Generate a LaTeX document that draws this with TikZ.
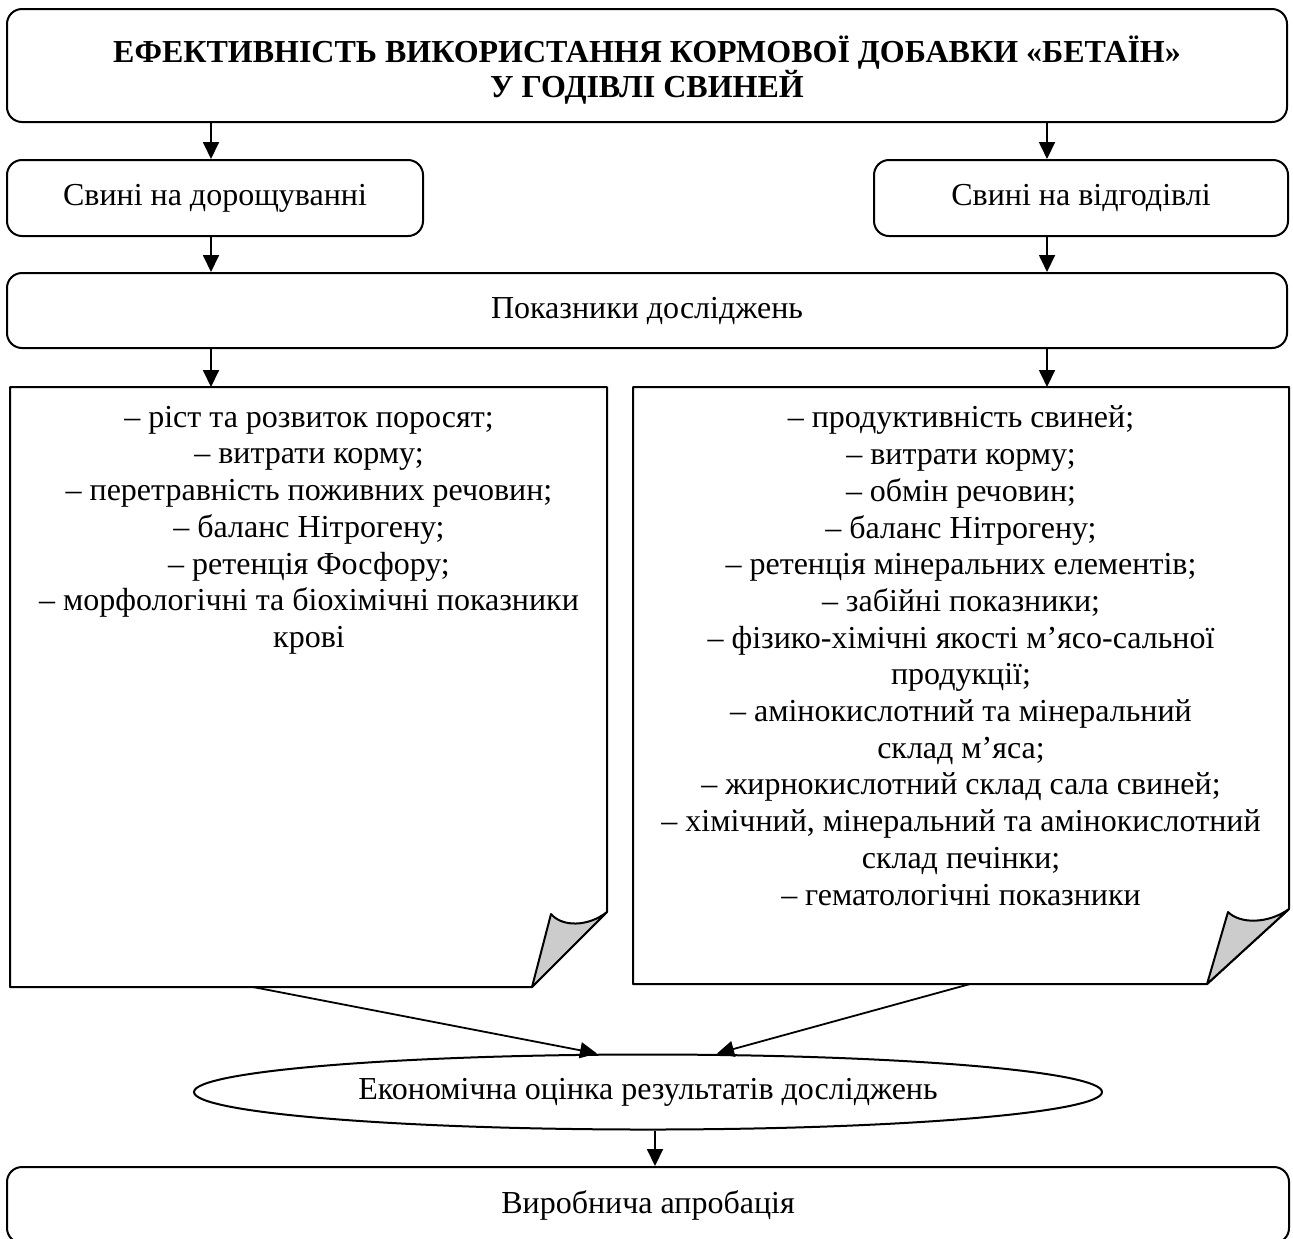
\documentclass[tikz,border=0pt]{standalone}
\usepackage{fontspec}
\setmainfont{Liberation Serif}
\usetikzlibrary{arrows.meta,calc,positioning,shapes.geometric}
\definecolor{foldgray}{RGB}{204,204,204}

\begin{document}
\begin{tikzpicture}[x=0.5pt,y=-0.5pt,
    rbox/.style={draw,line width=1pt,rounded corners=7.5pt,inner sep=0pt,align=center},
    docline/.style={draw,line width=1pt,line join=round},
    arr/.style={line width=0.9pt,-{Triangle[length=8.5pt,width=8pt]}},
    listtext/.style={anchor=north,align=center,font=\fontsize{16}{18.35}\selectfont},
    font=\fontsize{16}{17.5}\selectfont]
  \useasboundingbox (0,0) rectangle (1293,1238);
  % title and the two groups
  \node[rbox,minimum width=640pt,minimum height=56.5pt] (title) at (647,65.5) {};
  \node[align=center,font=\fontsize{16}{17.5}\selectfont\bfseries] (titletxt) at (647,70)
    {ЕФЕКТИВНІСТЬ ВИКОРИСТАННЯ КОРМОВОЇ ДОБАВКИ «БЕТАЇН»\\У ГОДІВЛІ СВИНЕЙ};
  \node[rbox,minimum width=208pt,minimum height=38pt] (dor) at (215,198) {Свині на дорощуванні};
  \node[rbox,minimum width=207pt,minimum height=38pt] (vid) at (1081,198) {Свині на відгодівлі};
  \node[rbox,minimum width=640pt,minimum height=37.5pt] (pok) at (647,310.5) {Показники досліджень};
  \coordinate (tl) at (211,122);
  \coordinate (tr) at (1047,122);
  \draw[arr] (tl) -- (tl |- dor.north);
  \draw[arr] (tr) -- (tr |- vid.north);
  \draw[arr] (tl |- dor.south) -- (tl |- pok.north);
  \draw[arr] (tr |- vid.south) -- (tr |- pok.north);
  % documents with folded corner
  \draw[docline] (10,387) -- (607,387) -- (607,912) -- (532,987) -- (10,987) -- cycle;
  \filldraw[docline,fill=foldgray] (607,912) -- (532,987) -- (551,914) .. controls (562,927) and (588,927) .. (607,912);
  \draw[docline] (633,387) -- (1289,387) -- (1289,909) -- (1207,984) -- (633,984) -- cycle;
  \filldraw[docline,fill=foldgray] (1289,909) -- (1207,984) -- (1228,912) .. controls (1240,924) and (1268,924) .. (1289,909);
  \coordinate (ldoc) at (309,387);
  \coordinate (rdoc) at (961,387);
  \draw[arr] (tl |- pok.south) -- (tl |- ldoc);
  \draw[arr] (tr |- pok.south) -- (tr |- rdoc);
  \node[listtext] (ltxt) at (309,399) {%
    – ріст та розвиток поросят;\\
    – витрати корму;\\
    – перетравність поживних речовин;\\
    – баланс Нітрогену;\\
    – ретенція Фосфору;\\
    – морфологічні та біохімічні показники\\
    крові};
  \node[listtext] (rtxt) at (961,399) {%
    – продуктивність свиней;\\
    – витрати корму;\\
    – обмін речовин;\\
    – баланс Нітрогену;\\
    – ретенція мінеральних елементів;\\
    – забійні показники;\\
    – фізико-хімічні якості м’ясо-сальної\\
    продукції;\\
    – амінокислотний та мінеральний\\
    склад м’яса;\\
    – жирнокислотний склад сала свиней;\\
    – хімічний, мінеральний та амінокислотний\\
    склад печінки;\\
    – гематологічні показники};
  % economic evaluation and approbation
  \coordinate (lbot) at (253,987);
  \coordinate (rbot) at (970,984);
  \node[draw,ellipse,line width=1pt,inner sep=0pt,minimum width=454pt,minimum height=37.5pt] (eko) at (648,1092)
    {\raisebox{-2pt}{Економічна оцінка результатів досліджень}};
  \node[rbox,minimum width=641pt,minimum height=38pt] (apr) at (648,1205) {Виробнича апробація};
  \draw[arr] (lbot) -- ([xshift=-25.5pt]eko.north);
  \draw[arr] (rbot) -- ([xshift=34.5pt]eko.north);
  \draw[arr] ([xshift=3.5pt]eko.south) -- ([xshift=3.5pt]apr.north);
\end{tikzpicture}
\end{document}
